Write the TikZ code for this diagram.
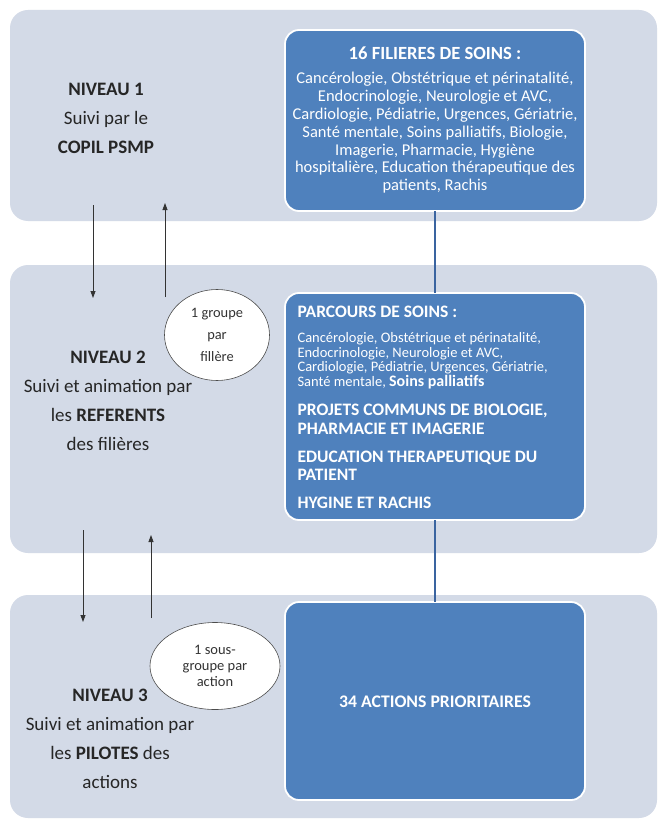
\documentclass[tikz,border=0pt]{standalone}
\usepackage{fontspec}
\setmainfont{Carlito}
\usetikzlibrary{arrows.meta,shapes.geometric}
\definecolor{panelbg}{HTML}{D3DAE7}
\definecolor{boxblue}{HTML}{4F81BD}
\definecolor{linkblue}{HTML}{3A64A0}
\begin{document}
\begin{tikzpicture}[x=1pt,y=-1pt,
  panel/.style={fill=panelbg,draw=none,rounded corners=18pt},
  bluebox/.style={fill=boxblue,draw=white,line width=1.8pt,rounded corners=14pt},
  lvltext/.style={align=center,text=black!85,font=\fontsize{19}{29}\selectfont},
  link/.style={draw=linkblue,line width=1.4pt},
  flow/.style={draw=black!80,line width=0.8pt,-{Triangle[length=7pt,width=5pt]}},
  bubble/.style={ellipse,fill=white,draw=black!70,line width=0.6pt,align=center,inner sep=0pt,text=black!80}
]
\useasboundingbox (0,0) rectangle (659,821);
\fill[white] (0,0) rectangle (659,821);

% panels
\draw[panel] (10,10) rectangle (657,221);
\draw[panel] (10,265) rectangle (657,553);
\draw[panel] (10,595) rectangle (657,818);

% blue boxes
\draw[bluebox] (285,30) rectangle (585,211);
\coordinate (b1bot) at (435,211);
\draw[bluebox] (285,293) rectangle (585,520);
\coordinate (b2top) at (435,293);
\coordinate (b2bot) at (435,520);
\draw[bluebox] (285,602) rectangle (585,800);
\coordinate (b3top) at (435,602);

\draw[link] (b1bot) -- (b2top);
\draw[link] (b2bot) -- (b3top);

% box 1 text
\node[text=white,font=\bfseries\fontsize{18.6}{20}\selectfont] (t1) at (435,53) {16 FILIERES DE SOINS :};
\node[text=white,align=center,font=\fontsize{16.5}{17.8}\selectfont,anchor=north] (t1b) at (435,69)
 {Cancérologie, Obstétrique et périnatalité,\\
  Endocrinologie, Neurologie et AVC,\\
  Cardiologie, Pédiatrie, Urgences, Gériatrie,\\
  Santé mentale, Soins palliatifs, Biologie,\\
  Imagerie, Pharmacie, Hygiène\\
  hospitalière, Education thérapeutique des\\
  patients, Rachis};

% box 2 text
\node[text=white,anchor=west,font=\bfseries\fontsize{17.5}{19}\selectfont] (t2) at (294,312) {PARCOURS DE SOINS :};
\node[text=white,align=left,anchor=north west,font=\fontsize{14.5}{14.6}\selectfont] (t2b) at (294,329)
 {Cancérologie, Obstétrique et périnatalité,\\
  Endocrinologie, Neurologie et AVC,\\
  Cardiologie, Pédiatrie, Urgences, Gériatrie,\\
  Santé mentale, \textbf{\fontsize{16}{14.6}\selectfont Soins palliatifs}};
\node[text=white,align=left,anchor=north west,font=\bfseries\fontsize{17.5}{19}\selectfont] (t2c) at (294,400)
 {PROJETS COMMUNS DE BIOLOGIE,\\PHARMACIE ET IMAGERIE};
\node[text=white,align=left,anchor=north west,font=\bfseries\fontsize{17.5}{18.5}\selectfont] (t2d) at (294,447)
 {EDUCATION THERAPEUTIQUE DU\\PATIENT};
\node[text=white,anchor=west,font=\bfseries\fontsize{17.5}{19}\selectfont] (t2e) at (294,503) {HYGINE ET RACHIS};

% box 3 text
\node[text=white,font=\bfseries\fontsize{17.7}{19}\selectfont] (t3) at (435,702) {34 ACTIONS PRIORITAIRES};

% level texts
\node[lvltext] (n1) at (106,118) {\textbf{NIVEAU 1}\\Suivi par le\\\textbf{COPIL PSMP}};
\node[lvltext] (n2) at (108,401) {\textbf{NIVEAU 2}\\Suivi et animation par\\les \textbf{REFERENTS}\\des filières};
\node[lvltext] (n3) at (110,739) {\textbf{NIVEAU 3}\\Suivi et animation par\\les \textbf{PILOTES} des\\actions};

% bubbles
\node[bubble,minimum width=105pt,minimum height=91pt,font=\fontsize{14.4}{22}\selectfont] (c1) at (217,335) {1 groupe\\par\\fillère};
\node[bubble,minimum width=130pt,minimum height=87pt,font=\fontsize{14.5}{16}\selectfont] (c2) at (215,666) {1 sous-\\groupe par\\action};

% flow arrows
\coordinate (a1s) at (93,205); \coordinate (a1e) at (93,298);
\coordinate (a2s) at (165,297); \coordinate (a2e) at (165,203);
\coordinate (a3s) at (83,530); \coordinate (a3e) at (83,622);
\coordinate (a4s) at (151,618); \coordinate (a4e) at (151,535);
\draw[flow] (a1s) -- (a1e);
\draw[flow] (a2s) -- (a2e);
\draw[flow] (a3s) -- (a3e);
\draw[flow] (a4s) -- (a4e);
\end{tikzpicture}
\end{document}
